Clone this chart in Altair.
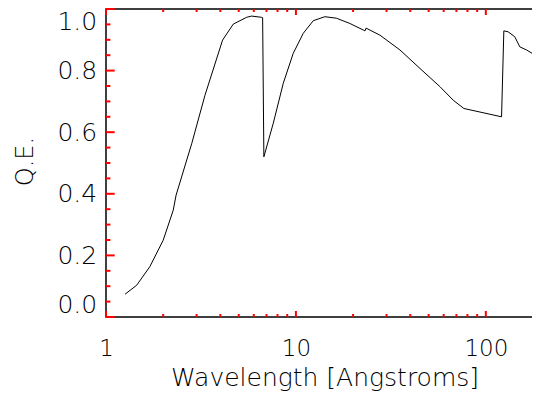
import altair as alt
import pandas as pd

# Curve (wavelength in Angstroms, quantum efficiency)
wavelength = [1.26, 1.45, 1.70, 2.00, 2.26, 2.34, 2.83, 3.32, 4.11, 4.68, 5.50, 5.84, 6.60, 6.68,
              6.78, 7.60, 8.58, 9.68, 10.93, 12.34, 14.21, 16.37, 19.24, 22.60, 23.10, 23.40,
              27.7, 35.3, 45.0, 57.3, 67.3, 76.6, 121.0, 124.4, 131.0, 142.0, 151.0, 163.8,
              177.5, 192.4, 200.0]
qe = [0.074, 0.103, 0.163, 0.249, 0.347, 0.396, 0.564, 0.720, 0.899, 0.951, 0.973, 0.977, 0.973, 0.972,
      0.520, 0.629, 0.759, 0.856, 0.921, 0.962, 0.975, 0.970, 0.953, 0.932, 0.929, 0.938,
      0.915, 0.867, 0.807, 0.748, 0.704, 0.677, 0.650, 0.929, 0.926, 0.910, 0.877, 0.867,
      0.854, 0.829, 0.820]

x_major = [1, 10, 100]
x_minor = [2, 3, 4, 5, 6, 7, 8, 9, 20, 30, 40, 50, 60, 70, 80, 90, 200]
y_major = [0.0, 0.2, 0.4, 0.6, 0.8, 1.0]
y_minor = [0.05, 0.1, 0.15, 0.25, 0.3, 0.35, 0.45, 0.5, 0.55, 0.65, 0.7, 0.75, 0.85, 0.9, 0.95]

W, H = 437, 308
FONT = "DejaVu Sans"
XT_MAJ, XT_MIN = 6, 3        # tick lengths of the x axes (pointing inward)
YT_MAJ, YT_MIN = 8.7, 4.4    # tick lengths of the y axes (pointing inward)

xscale = alt.Scale(type="log", domain=[1, 200], nice=False)
yscale = alt.Scale(domain=[0, 1], nice=False, zero=False)

df = pd.DataFrame({"wavelength": wavelength, "qe": qe})

main_x = alt.Axis(orient="bottom", values=x_major, ticks=False, domain=False, grid=False,
                  format="d", labelFlush=False, labelFontSize=23,
                  labelFont=FONT, labelFontWeight=200, labelColor="black",
                  labelBaseline="alphabetic", labelPadding=38.5,
                  title="Wavelength [Angstroms]", titleFont=FONT, titleFontSize=25,
                  titleFontWeight=200, titleColor="black", titleBaseline="alphabetic",
                  titleY=68.8)
main_y = alt.Axis(orient="left", values=y_major, ticks=False, domain=False, grid=False,
                  format=".1f", labelFlush=True, labelFontSize=25,
                  labelFont=FONT, labelFontWeight=200, labelColor="black", labelPadding=9.3,
                  title="Q.E.", titleFont=FONT, titleFontSize=24, titleFontWeight=200,
                  titleColor="black", titleBaseline="alphabetic", titleAngle=270,
                  titleAlign="center", titleX=-74, titleY=152)

line = alt.Chart(df).mark_line(color="black", strokeWidth=1).encode(
    x=alt.X("wavelength:Q", scale=xscale, axis=main_x),
    y=alt.Y("qe:Q", scale=yscale, axis=main_y),
)

TICK = dict(color="red", strokeWidth=2)


def xticks(vals, length):
    d = pd.DataFrame({"tx": vals})
    base = alt.Chart(d).mark_rule(**TICK)
    bottom = base.encode(x=alt.X("tx:Q", scale=xscale, axis=None),
                         y=alt.value(H), y2=alt.value(H - length))
    top = base.encode(x=alt.X("tx:Q", scale=xscale, axis=None),
                      y=alt.value(0), y2=alt.value(length))
    return [bottom, top]


def yticks(vals, length):
    d = pd.DataFrame({"ty": vals})
    base = alt.Chart(d).mark_rule(**TICK)
    left = base.encode(y=alt.Y("ty:Q", scale=yscale, axis=None),
                       x=alt.value(0), x2=alt.value(length))
    right = base.encode(y=alt.Y("ty:Q", scale=yscale, axis=None),
                        x=alt.value(W), x2=alt.value(W - length))
    return [left, right]


layers = (xticks(x_major, XT_MAJ) + xticks(x_minor, XT_MIN)
          + yticks(y_major, YT_MAJ) + yticks(y_minor, YT_MIN) + [line])

chart = alt.layer(*layers).resolve_axis(x="independent", y="independent").properties(
    width=W, height=H,
    autosize=alt.AutoSizeParams(type="none"),
    padding={"left": 98, "top": 1, "right": -11, "bottom": 74},
).configure(background="white").configure_view(stroke="black", strokeWidth=1.5)

chart.save("out.html", embed_options={"renderer": "svg", "actions": False})
